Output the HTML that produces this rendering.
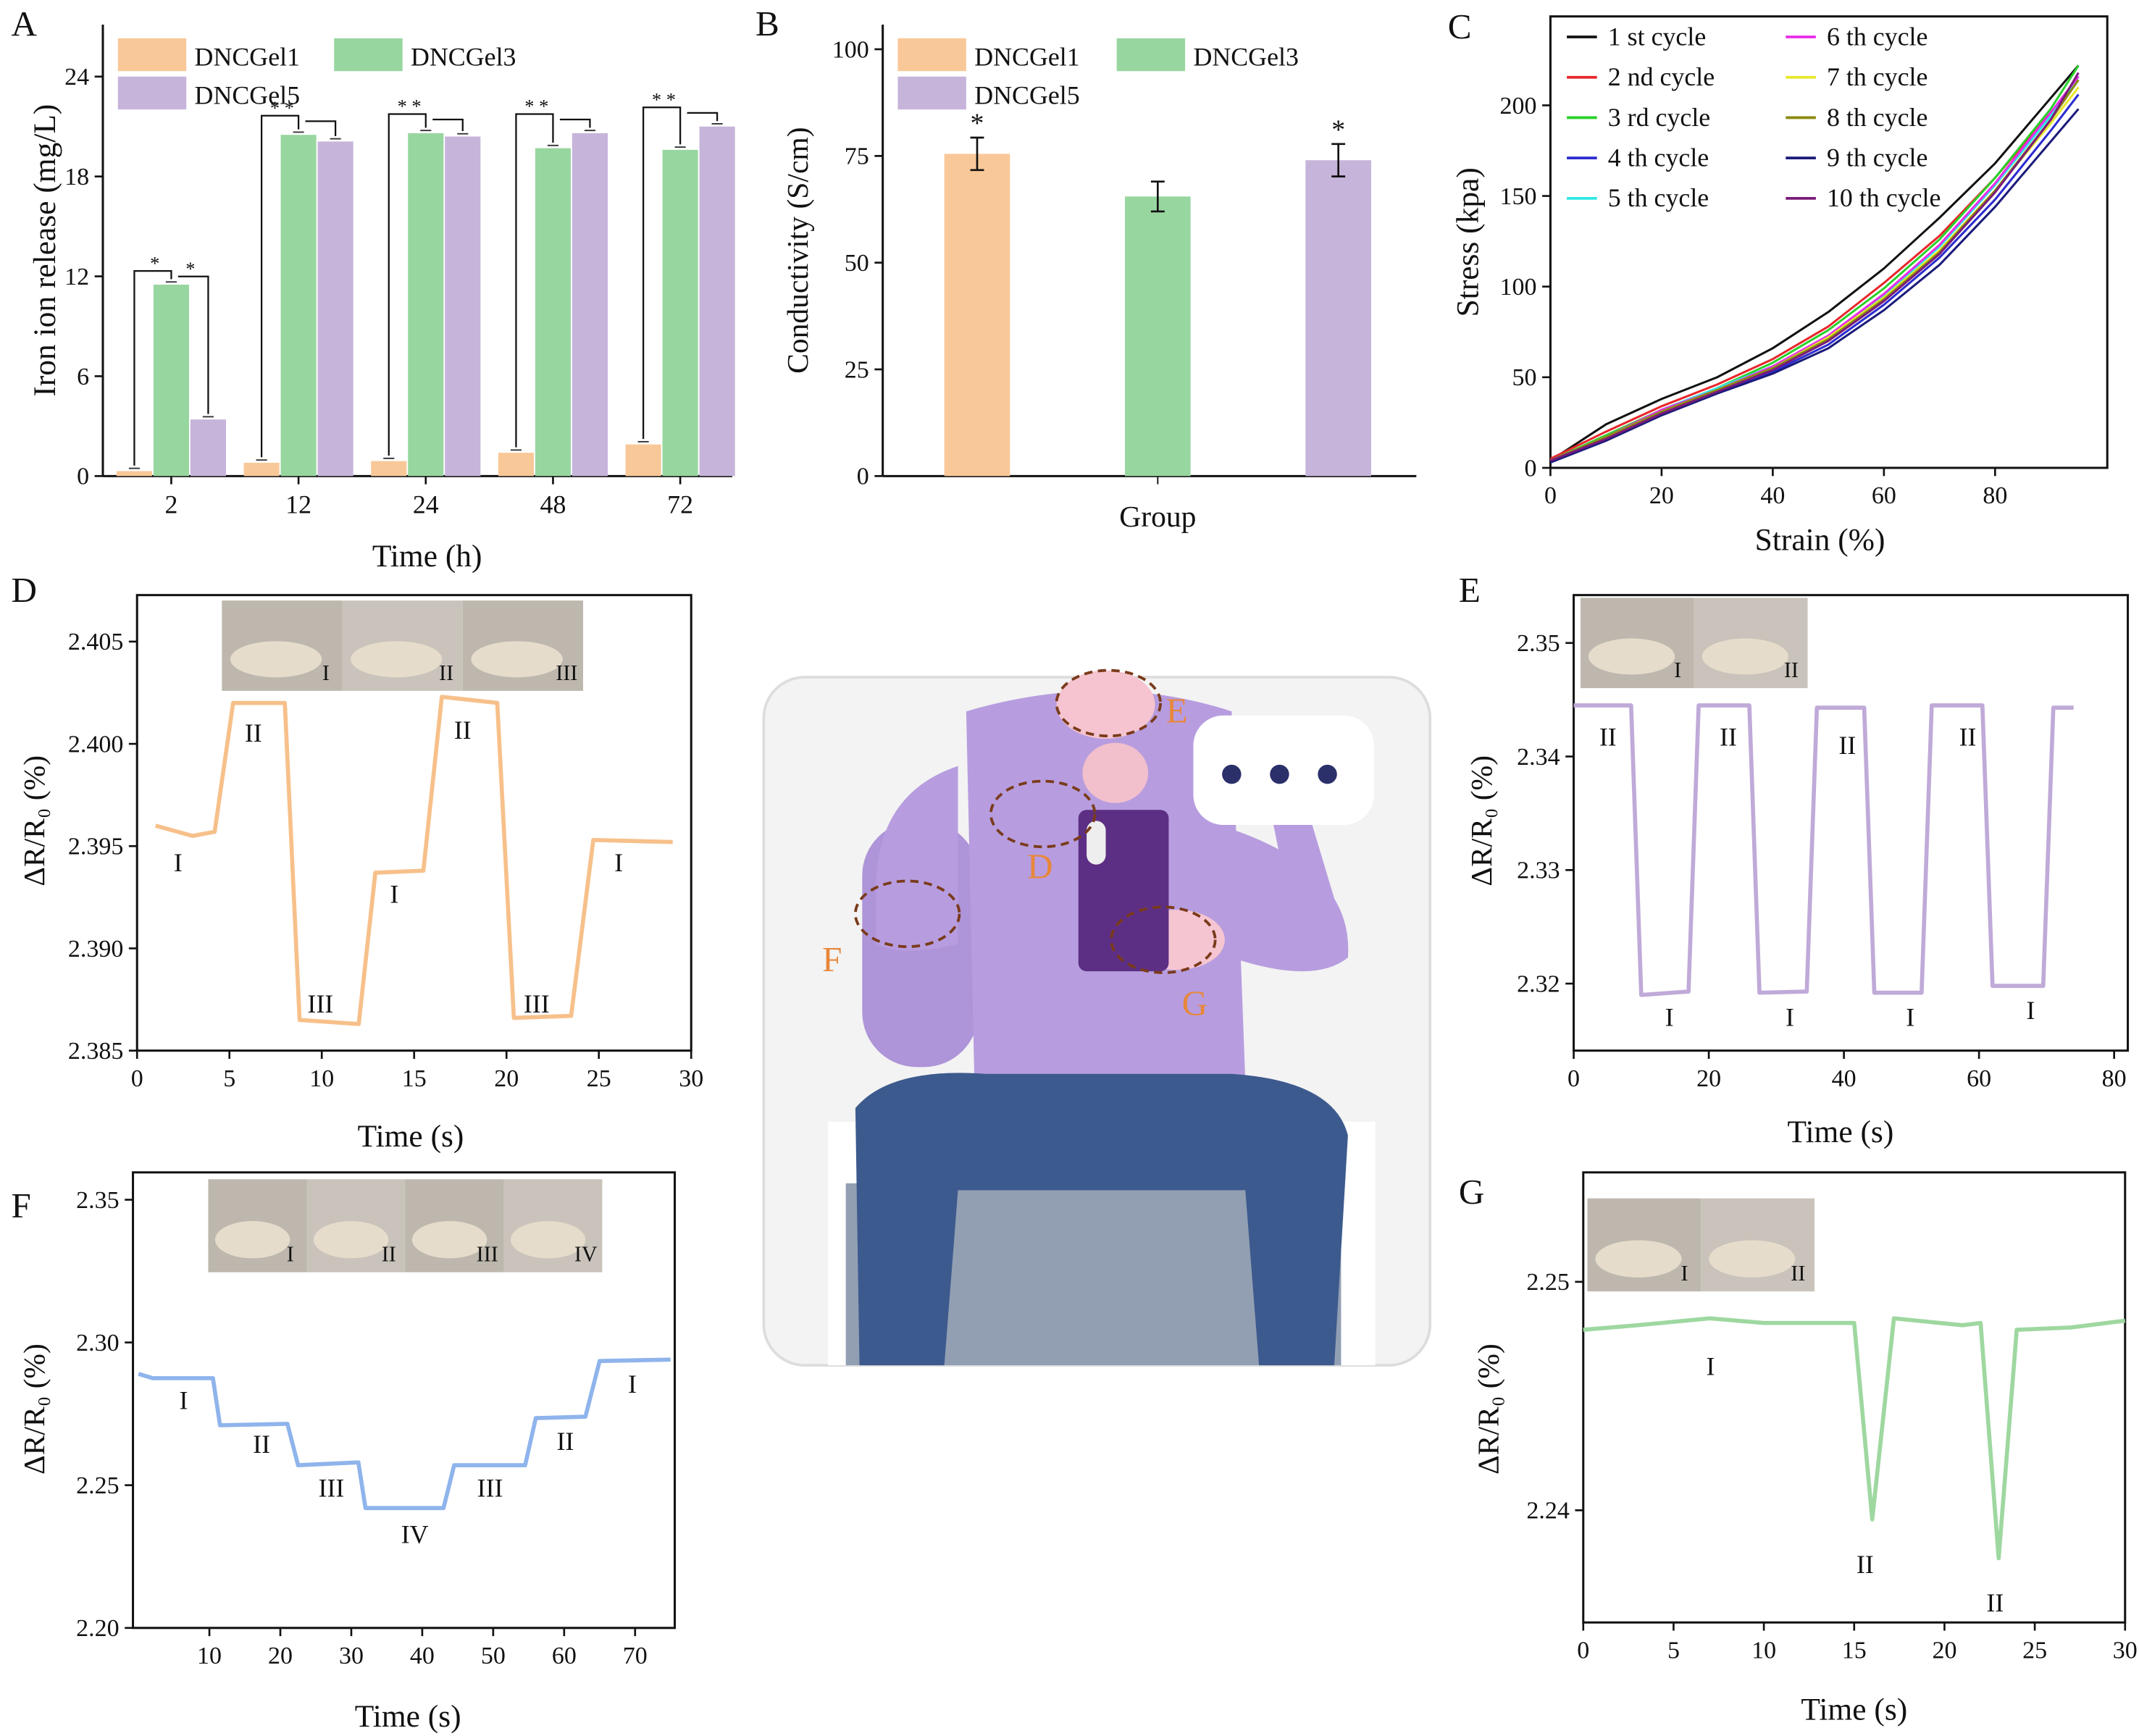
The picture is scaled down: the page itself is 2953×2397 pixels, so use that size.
<!DOCTYPE html>
<html><head><meta charset="utf-8"><style>
html,body{margin:0;padding:0;background:#fff}
svg{display:block}
text{font-family:"Liberation Serif",serif;fill:#111}
</style></head><body>
<svg id="root" width="2953" height="2397" viewBox="0 0 1563 1269" xmlns="http://www.w3.org/2000/svg">
<rect width="1563" height="1269" fill="#fff"/>
<g id="g"></g>
</svg>
<script>
// ===== Data =====
const aCategories=["2","12","24","48","72"];
const aGel1=[0.3,0.8,0.9,1.4,1.9];
const aGel3=[11.5,20.5,20.6,19.7,19.6];
const aGel5=[3.4,20.1,20.4,20.6,21.0];
const aTicks=[0,6,12,18,24];
const bCategories=["DNCGel1","DNCGel3","DNCGel5"];
const bValues=[75.5,65.5,74];
const bErrors=[3.8,3.5,3.8];
const bTicks=[0,25,50,75,100];
const cStrain=[0,10,20,30,40,50,60,70,80,90,95];
const cCycle1=[4,24,38,50,66,86,110,138,168,204,222];
const cCycle2=[5,20,34,46,60,78,102,128,160,196,214];
const cCycle3=[4,18,32,44,58,76,99,126,160,198,222];
const cCycle4=[3,15,30,42,53,68,90,116,148,186,206];
const cCycle5=[4,17,32,44,56,72,95,122,156,194,216];
const cCycle6=[4,17,32,43,56,73,96,123,157,196,216];
const cCycle7=[4,17,31,43,55,72,94,120,153,190,210];
const cCycle8=[4,17,31,43,55,71,93,119,153,192,214];
const cCycle9=[3,15,29,41,52,66,87,112,144,180,198];
const cCycle10=[4,16,30,42,54,70,92,118,152,192,218];
const cLabels=["1 st cycle","2 nd cycle","3 rd cycle","4 th cycle","5 th cycle","6 th cycle","7 th cycle","8 th cycle","9 th cycle","10 th cycle"];
const dTime=[1,3,4.2,5.2,8,8.8,12,12.9,15.5,16.5,19.5,20.4,23.5,24.7,29];
const dValue=[2.396,2.3955,2.3957,2.402,2.402,2.3865,2.3863,2.3937,2.3938,2.4023,2.402,2.3866,2.3867,2.3953,2.3952];
const eTime=[0,8.5,10,17,18.5,26,27.5,34.5,36,43,44.5,51.5,53,60.5,62,69.5,71,74];
const eValue=[2.3445,2.3445,2.319,2.3193,2.3445,2.3445,2.3192,2.3193,2.3443,2.3443,2.3192,2.3192,2.3445,2.3445,2.3198,2.3198,2.3443,2.3443];
const fTime=[0,2,10.5,11.5,21,22.5,31,32,43,44.5,54.5,56,63,65,75];
const fValue=[2.289,2.2875,2.2875,2.271,2.2715,2.257,2.258,2.242,2.242,2.257,2.257,2.2735,2.274,2.2935,2.294];
const gTime=[0,3,7,10,15,16,17.2,21,22,23,24,27,30];
const gValue=[2.2479,2.2481,2.2484,2.2482,2.2482,2.2396,2.2484,2.2481,2.2482,2.2379,2.2479,2.248,2.2483];

const NS="http://www.w3.org/2000/svg";
const G=document.getElementById('g');
function el(tag,attrs,parent,txt){const e=document.createElementNS(NS,tag);for(const k in attrs)e.setAttribute(k,attrs[k]);if(txt!==undefined)e.textContent=txt;(parent||G).appendChild(e);return e;}
function T(x,y,s,size,anchor,parent,extra){const t=el('text',Object.assign({x:x,y:y,'font-size':size||18,'text-anchor':anchor||'middle'},extra||{}),parent,s);return t;}
function frame(x0,y0,x1,y1,name){const r=el('rect',{x:x0,y:y0,width:x1-x0,height:y1-y0,fill:'none',stroke:'#111','stroke-width':1.6});}
function axisL(x0,y0,y1){el('line',{x1:x0,y1:y0,x2:x0,y2:y1,stroke:'#111','stroke-width':1.6});}
function axisB(x0,x1,y){el('line',{x1:x0,y1:y,x2:x1,y2:y,stroke:'#111','stroke-width':1.6});}
function yTicks(ticks,ys,x,fmt){ticks.forEach(v=>{const y=ys(v);el('line',{x1:x,y1:y,x2:x-6,y2:y,stroke:'#111','stroke-width':1.4});const t=T(x-10,y+6,fmt?fmt(v):String(v),18,'end');});}
function xTicks(ticks,xs,y){ticks.forEach(v=>{const x=xs(v);el('line',{x1:x,y1:y,x2:x,y2:y+6,stroke:'#111','stroke-width':1.4});const t=T(x,y+26,String(v),18);});}
function lin(d0,d1,r0,r1){return v=>r0+(v-d0)/(d1-d0)*(r1-r0);}
function poly(xs,ys,X,Y,color,w,name){const p=el('polyline',{points:X.map((v,i)=>xs(v)+','+ys(Y[i])).join(' '),fill:'none',stroke:color,'stroke-width':w||2.5,'stroke-linejoin':'round'});return p;}
function panelLetter(s,x,y){const t=T(x,y,s,26,'start');}
function legendBox(x,y,color,label,name){const r=el('rect',{x:x,y:y,width:50,height:24,fill:color});const t=T(x+56,y+20,label,19,'start');}
const OR='#f9c898',GR='#98d6a0',PU='#c6b4da';

// ===== Panel A =====
panelLetter('A',8,26);
const aX0=75,aX1=535,aY0=18,aY1=348;
const aY=lin(0,24,aY1,56);
axisL(aX0,aY0,aY1);axisB(aX0,aX1,aY1);
yTicks(aTicks,aY,aX0);
const aCx=[125,218,311,404,497];
aCategories.forEach((c,i)=>{
 const cx=aCx[i];
 [[aGel1,OR,-27,'gel1'],[aGel3,GR,0,'gel3'],[aGel5,PU,27,'gel5']].forEach(s=>{
  const v=s[0][i];const r=el('rect',{x:cx+s[2]-13,y:aY(v),width:26,height:aY1-aY(v),fill:s[1]});
  
  el('line',{x1:cx+s[2]-4,y1:aY(v)-2,x2:cx+s[2]+4,y2:aY(v)-2,stroke:'#333','stroke-width':1});
 });
 el('line',{x1:cx,y1:aY1,x2:cx,y2:aY1+6,stroke:'#111','stroke-width':1.4});
 const t=T(cx,aY1+27,c,19);
 // significance brackets
 const top=aY(Math.max(aGel3[i],aGel5[i]))-12-(i==0?0:0);
 const yb=i==0?aY(aGel3[i])-10:top-2;
 el('polyline',{points:`${cx-27},${aY(aGel1[i])-4} ${cx-27},${yb} ${cx},${yb} ${cx},${aY(aGel3[i])-4}`,fill:'none',stroke:'#111','stroke-width':1.2});
 el('polyline',{points:`${cx+5},${yb+4} ${cx+27},${yb+4} ${cx+27},${aY(aGel5[i])-4}`,fill:'none',stroke:'#111','stroke-width':1.2});
 T(cx-12,yb-1,i==0?'*':'* *',14);
 if(i==0)T(cx+14,yb+3,'*',14);
});
const aYt=T(40,183,'Iron ion release (mg/L)',23,'middle',G,{transform:'rotate(-90 40 183)'});
const aXt=T(312,414,'Time (h)',23);
legendBox(86,28,OR,'DNCGel1','legend-gel1-a');legendBox(244,28,GR,'DNCGel3','legend-gel3-a');legendBox(86,56,PU,'DNCGel5','legend-gel5-a');

// ===== Panel B =====
panelLetter('B',552,26);
const bX0=645,bX1=1035,bY0=18,bY1=348;
const bY=lin(0,100,bY1,36);
axisL(bX0,bY0,bY1);axisB(bX0,bX1,bY1);
yTicks(bTicks,bY,bX0);
const bCx=[714,846,978];
bCategories.forEach((c,i)=>{
 const v=bValues[i];const col=[OR,GR,PU][i];
 const r=el('rect',{x:bCx[i]-24,y:bY(v),width:48,height:bY1-bY(v),fill:col});
 const e=bErrors[i];
 el('path',{d:`M${bCx[i]},${bY(v+e)}V${bY(v-e)}M${bCx[i]-5},${bY(v+e)}h10M${bCx[i]-5},${bY(v-e)}h10`,stroke:'#111','stroke-width':1.4,fill:'none'});
 if(i!=1)T(bCx[i],bY(v+e)-4,'*',20);
});
el('line',{x1:846,y1:bY1,x2:846,y2:bY1+6,stroke:'#111'});
const bXt=T(846,385,'Group',22);
const bYt=T(590,183,'Conductivity (S/cm)',22,'middle',G,{transform:'rotate(-90 590 183)'});
legendBox(656,28,OR,'DNCGel1','legend-gel1-b');legendBox(816,28,GR,'DNCGel3','legend-gel3-b');legendBox(656,56,PU,'DNCGel5','legend-gel5-b');

// ===== Panel C =====
panelLetter('C',1058,28);
const cXs=lin(0,80,1133,1458),cYs=lin(0,200,342,77);
frame(1133,12,1540,342,'plot-frame-c');
yTicks([0,50,100,150,200],cYs,1133);
xTicks([0,20,40,60,80],cXs,342);
const cSeries=[cCycle1,cCycle2,cCycle3,cCycle4,cCycle5,cCycle6,cCycle7,cCycle8,cCycle9,cCycle10];
const cColors=['#111','#e8262b','#2bd02b','#2b2bd0','#2ee8e8','#e82be8','#e8e82b','#8b8b10','#1b1b7a','#7a1b7a'];
cSeries.forEach((s,i)=>{poly(cXs,cYs,cStrain,s,cColors[i],1.6,'curve-cycle-'+(i+1));});
cLabels.forEach((l,i)=>{const col=i<5?0:1;const r=i%5;const x=1145+col*160,y=33+r*29.5;
 const ln=el('line',{x1:x,y1:y-6,x2:x+22,y2:y-6,stroke:cColors[i],'stroke-width':2});
 const t=T(x+30,y,l,19,'start');});
const cXt=T(1330,402,'Strain (%)',23);
const cYt=T(1080,177,'Stress (kpa)',23,'middle',G,{transform:'rotate(-90 1080 177)'});

function photo(x,y,w,h,n,labels,name){const g=el('g',{});
 for(let i=0;i<n;i++){el('rect',{x:x+i*w/n,y:y,width:w/n,height:h,fill:i%2?'#c9c3bb':'#bdb7ae'},g);
  el('ellipse',{cx:x+i*w/n+w/n*0.45,cy:y+h*0.65,rx:w/n*0.38,ry:h*0.2,fill:'#e6dccb'},g);
  T(x+(i+1)*w/n-12,y+h-8,labels[i],16,'middle',g);}}

// ===== Panel D =====
panelLetter('D',8,440);
const dXs=lin(0,30,100,505),dYs=lin(2.385,2.405,768,469);
frame(100,435,505,768,'plot-frame-d');
yTicks([2.385,2.39,2.395,2.4,2.405],dYs,100,v=>v.toFixed(3));
xTicks([0,5,10,15,20,25,30],dXs,768);
photo(162,439,264,66,3,['I','II','III'],'inset-photo-d');
poly(dXs,dYs,dTime,dValue,'#f7c08a',3,'line-d');
[['II',185,542],['I',130,637],['III',234,740],['I',288,660],['II',338,540],['III',392,740],['I',452,637]].forEach(a=>T(a[1],a[2],a[0],19));
const dXt=T(300,838,'Time (s)',23);
const dYt=T(32,600,'ΔR/R₀ (%)',22,'middle',G,{transform:'rotate(-90 32 600)'});

// ===== Panel E =====
panelLetter('E',1066,440);
const eXs=lin(0,80,1150,1545),eYs=lin(2.32,2.35,719,470);
frame(1150,435,1555,768,'plot-frame-e');
yTicks([2.32,2.33,2.34,2.35],eYs,1150,v=>v.toFixed(2));
xTicks([0,20,40,60,80],eXs,768);
photo(1155,437,166,66,2,['I','II'],'inset-photo-e');
poly(eXs,eYs,eTime,eValue,'#c0aad8',3,'line-e');
[['II',1175,545],['II',1263,545],['II',1350,551],['II',1438,545],['I',1220,750],['I',1308,750],['I',1396,750],['I',1484,745]].forEach(a=>T(a[1],a[2],a[0],19));
const eXt=T(1345,835,'Time (s)',23);
const eYt=T(1090,600,'ΔR/R₀ (%)',22,'middle',G,{transform:'rotate(-90 1090 600)'});

// ===== Panel F =====
panelLetter('F',8,890);
const fXs=lin(0,70,101,464),fYs=lin(2.2,2.35,1190,877);
frame(97,857,493,1190,'plot-frame-f');
yTicks([2.2,2.25,2.3,2.35],fYs,97,v=>v.toFixed(2));
xTicks([10,20,30,40,50,60,70],fXs,1190);
photo(152,862,288,68,4,['I','II','III','IV'],'inset-photo-f');
poly(fXs,fYs,fTime,fValue,'#8fb4ec',3,'line-f');
[['I',134,1030],['II',191,1062],['III',242,1094],['IV',303,1128],['III',358,1094],['II',413,1060],['I',462,1018]].forEach(a=>T(a[1],a[2],a[0],19));
const fXt=T(298,1262,'Time (s)',23);
const fYt=T(32,1030,'ΔR/R₀ (%)',22,'middle',G,{transform:'rotate(-90 32 1030)'});

// ===== Panel G =====
panelLetter('G',1066,880);
const gXs=lin(0,30,1157,1553),gYs=lin(2.24,2.25,1104,937);
frame(1157,857,1553,1186,'plot-frame-g');
yTicks([2.24,2.25],gYs,1157,v=>v.toFixed(2));
xTicks([0,5,10,15,20,25,30],gXs,1186);
photo(1160,876,166,68,2,['I','II'],'inset-photo-g');
poly(gXs,gYs,gTime,gValue,'#9ed8a0',3,'line-g');
[['I',1250,1005],['II',1363,1150],['II',1458,1178]].forEach(a=>T(a[1],a[2],a[0],19));
const gXt=T(1355,1257,'Time (s)',23);
const gYt=T(1095,1030,'ΔR/R₀ (%)',22,'middle',G,{transform:'rotate(-90 1095 1030)'});

// ===== Center illustration =====
const il=el('g',{});
el('rect',{x:558,y:495,width:487,height:503,rx:30,fill:'#f3f3f3',stroke:'#ddd','stroke-width':2},il);
el('rect',{x:605,y:820,width:400,height:178,fill:'#fff'},il);
el('rect',{x:618,y:865,width:362,height:133,fill:'#6e7f9a',opacity:0.75},il);
el('rect',{x:630,y:600,width:85,height:180,rx:40,fill:'#ae94d8'},il);
el('path',{d:'M706,520 Q808,490 900,520 L910,790 L712,790 Z',fill:'#b79ddf'},il);
el('path',{d:'M700,560 Q640,580 640,650 L640,690 Q660,700 700,690 Z',fill:'#b79ddf'},il);
el('path',{d:'M880,600 Q990,630 985,700 Q960,720 900,700 Z',fill:'#b79ddf'},il);
el('path',{d:'M955,590 L985,690 L950,700 L930,600 Z',fill:'#b79ddf'},il);
el('ellipse',{cx:808,cy:515,rx:36,ry:25,fill:'#f5c4d0'},il);
el('ellipse',{cx:815,cy:565,rx:24,ry:22,fill:'#f2bfcc'},il);
el('ellipse',{cx:860,cy:687,rx:35,ry:22,fill:'#f6c5d2'},il);
el('rect',{x:788,y:592,width:66,height:118,rx:6,fill:'#5c2f84'},il);
el('rect',{x:794,y:600,width:14,height:32,rx:7,fill:'#eee'},il);
el('rect',{x:872,y:523,width:132,height:80,rx:22,fill:'#fff'},il);
[900,935,970].forEach(x=>el('circle',{cx:x,cy:566,r:7,fill:'#2b2f6a'},il));
el('path',{d:'M625,810 Q650,780 720,785 L900,785 Q975,790 985,830 L975,998 L920,998 L910,870 L700,870 L690,998 L628,998 Z',fill:'#3d5a8e'},il);
[[810,514,38,24],[762,595,38,24],[663,668,38,24],[850,687,38,24]].forEach(e=>el('ellipse',{cx:e[0],cy:e[1],rx:e[2],ry:e[3],fill:'none',stroke:'#7a3b1b','stroke-width':2,'stroke-dasharray':'6,4'},il));
[['E',860,528],['D',760,642],['F',608,710],['G',873,742]].forEach(a=>{const t=T(a[1],a[2],a[0],26,'middle',il);t.setAttribute('fill','#e8873a');t.style.fill='#e8873a';});
</script>
</body></html>
